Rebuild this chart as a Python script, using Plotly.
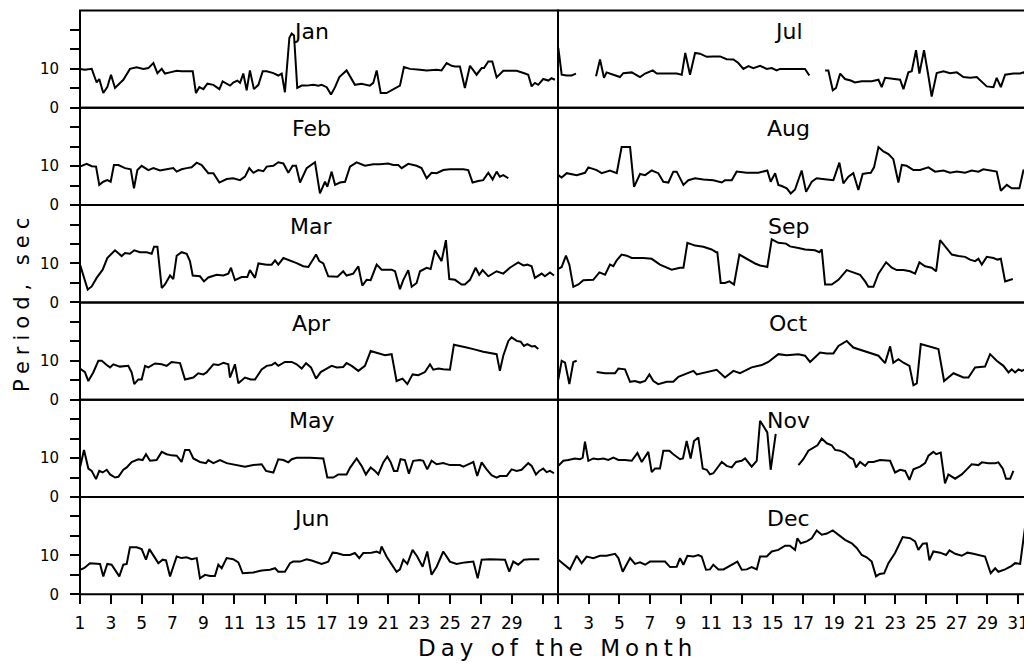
import plotly.graph_objects as go

# ---------------- data (day of month, period in seconds) ----------------
months = ["Jan", "Feb", "Mar", "Apr", "May", "Jun",
          "Jul", "Aug", "Sep", "Oct", "Nov", "Dec"]

jan_day = [1.00, 1.32, 1.76, 2.08, 2.25, 2.51, 2.77, 3.01, 3.27, 3.81, 4.24, 4.67, 5.11, 5.43, 5.76, 6.02, 6.30, 6.51, 6.84, 7.27, 7.59, 8.13, 8.31, 8.52, 8.74, 9.00, 9.26, 9.65, 10.04, 10.25, 10.73, 10.94, 11.20, 11.38, 11.59, 11.81, 12.02, 12.28, 12.57, 12.85, 13.11, 13.54, 13.86, 14.08, 14.29, 14.58, 14.73, 14.88, 15.09, 15.38, 15.70, 16.13, 16.46, 16.67, 17.00, 17.28, 17.54, 17.82, 18.29, 18.83, 19.26, 19.80, 20.02, 20.24, 20.50, 20.88, 21.32, 21.75, 22.01, 22.40, 23.05, 23.48, 24.13, 24.45, 24.78, 25.10, 25.32, 25.64, 25.96, 26.29, 26.72, 27.05, 27.20, 27.48, 27.74, 28.02, 28.45, 28.99, 29.32, 29.86, 30.07, 30.29, 30.50, 30.72, 31.04, 31.37, 31.58, 31.80]
jan_period = [10.0, 9.8, 10.0, 6.5, 7.4, 3.8, 5.3, 8.5, 5.1, 7.2, 10.0, 10.4, 10.0, 10.2, 11.5, 8.9, 10.0, 8.8, 9.1, 9.5, 9.4, 9.4, 9.4, 3.8, 5.3, 4.8, 6.2, 5.9, 4.8, 6.8, 5.7, 6.5, 7.0, 6.4, 8.8, 4.5, 9.6, 4.8, 5.9, 9.4, 9.4, 8.9, 8.3, 8.8, 4.0, 18.0, 19.1, 18.6, 5.1, 5.7, 5.7, 5.9, 5.7, 5.9, 5.3, 3.4, 5.3, 7.9, 9.6, 5.9, 6.2, 5.7, 6.4, 9.6, 3.8, 3.8, 4.8, 5.7, 10.5, 10.0, 9.8, 9.6, 9.8, 9.6, 11.5, 10.8, 10.6, 10.6, 5.1, 10.8, 8.5, 10.2, 10.2, 11.9, 11.9, 7.8, 9.5, 9.4, 9.5, 8.8, 8.5, 5.5, 6.4, 5.9, 7.4, 7.0, 7.6, 7.2]

feb_day = [1.00, 1.43, 1.76, 2.04, 2.25, 2.51, 2.77, 2.99, 3.20, 3.49, 3.92, 4.29, 4.50, 4.72, 5.00, 5.43, 5.76, 6.19, 6.62, 7.05, 7.27, 7.59, 7.92, 8.24, 8.57, 8.89, 9.32, 9.65, 10.04, 10.51, 10.94, 11.38, 11.70, 11.98, 12.24, 12.57, 12.89, 13.11, 13.54, 13.86, 14.19, 14.51, 14.79, 15.01, 15.27, 15.70, 16.24, 16.56, 16.89, 17.04, 17.32, 17.54, 17.86, 18.19, 18.51, 18.94, 19.48, 20.02, 20.45, 20.99, 21.32, 21.64, 21.86, 22.29, 22.83, 23.15, 23.48, 23.80, 24.13, 24.56, 24.99, 25.42, 25.86, 26.18, 26.46, 26.83, 27.15, 27.48, 27.76, 28.02, 28.23, 28.45, 28.78]
feb_period = [9.9, 10.6, 10.0, 9.9, 5.2, 6.0, 6.4, 6.0, 10.3, 10.3, 9.5, 9.2, 4.3, 9.0, 10.1, 9.0, 9.5, 8.9, 9.2, 9.5, 8.6, 9.2, 9.5, 9.7, 10.9, 10.3, 8.2, 8.2, 5.8, 6.7, 6.9, 6.4, 7.3, 9.5, 8.3, 9.0, 8.7, 9.9, 10.1, 11.0, 10.7, 8.3, 10.1, 10.1, 5.8, 9.5, 11.0, 3.0, 6.0, 4.7, 8.6, 5.2, 5.8, 6.0, 9.9, 11.0, 10.1, 10.5, 10.5, 10.7, 10.3, 10.3, 9.5, 10.6, 10.1, 9.5, 6.9, 8.3, 8.2, 9.0, 9.2, 9.2, 9.2, 9.0, 5.8, 6.2, 6.4, 8.3, 6.6, 8.6, 7.3, 7.7, 6.9]

mar_day = [1.00, 1.22, 1.50, 1.76, 2.08, 2.47, 2.77, 3.27, 3.70, 3.92, 4.24, 4.52, 4.89, 5.32, 5.65, 5.80, 6.02, 6.30, 6.51, 6.84, 7.05, 7.27, 7.59, 7.92, 8.13, 8.31, 8.78, 9.04, 9.32, 9.86, 10.30, 10.62, 10.79, 11.05, 11.48, 11.85, 12.02, 12.35, 12.57, 13.11, 13.43, 13.65, 13.86, 14.19, 14.62, 15.05, 15.48, 15.81, 16.31, 16.52, 16.78, 17.10, 17.70, 18.07, 18.29, 18.72, 19.05, 19.31, 19.59, 19.85, 20.24, 20.56, 21.21, 21.43, 21.75, 21.97, 22.29, 22.51, 22.83, 23.05, 23.48, 23.74, 24.02, 24.45, 24.73, 24.95, 25.32, 25.75, 25.96, 26.29, 26.66, 26.89, 27.11, 27.48, 28.02, 28.45, 28.88, 29.42, 29.75, 30.01, 30.29, 30.50, 30.94, 31.15, 31.48, 31.74]
mar_period = [9.7, 6.7, 3.3, 4.1, 6.3, 8.4, 11.4, 13.4, 11.9, 12.7, 12.5, 13.4, 12.9, 12.9, 12.5, 14.3, 14.3, 3.7, 4.6, 6.9, 6.0, 12.0, 12.9, 12.5, 10.6, 6.9, 6.7, 5.4, 6.4, 7.1, 6.9, 7.4, 8.9, 5.7, 6.5, 6.5, 8.3, 6.3, 10.0, 9.7, 9.7, 10.8, 9.7, 11.4, 10.8, 10.1, 9.3, 9.1, 12.3, 10.6, 10.0, 6.7, 6.6, 8.0, 6.9, 7.4, 9.3, 4.3, 5.8, 5.7, 9.7, 8.4, 8.4, 8.0, 3.4, 5.8, 8.3, 4.0, 5.0, 8.0, 8.9, 8.6, 13.4, 10.6, 16.0, 6.0, 5.8, 4.6, 4.6, 5.8, 8.9, 7.1, 8.3, 6.7, 8.0, 7.4, 8.9, 10.3, 9.5, 9.7, 9.3, 6.3, 7.4, 6.7, 7.7, 6.9]

apr_day = [1.00, 1.32, 1.54, 1.86, 2.19, 2.41, 2.73, 2.95, 3.16, 3.59, 4.13, 4.35, 4.52, 4.78, 5.00, 5.22, 5.43, 5.86, 6.30, 6.62, 6.94, 7.49, 7.81, 8.35, 8.67, 9.00, 9.21, 9.65, 9.97, 10.30, 10.62, 10.73, 11.05, 11.27, 11.70, 12.07, 12.35, 12.78, 13.11, 13.43, 13.65, 13.86, 14.29, 14.73, 15.05, 15.38, 15.66, 15.98, 16.31, 16.61, 17.00, 17.32, 17.65, 18.07, 18.29, 18.62, 19.05, 19.48, 19.85, 20.34, 20.78, 21.21, 21.53, 21.92, 22.23, 22.57, 22.94, 23.37, 23.70, 23.91, 24.24, 24.56, 24.99, 25.25, 25.53, 26.07, 26.51, 27.15, 28.02, 28.23, 28.45, 28.78, 28.99, 29.32, 29.58, 29.79, 30.01, 30.29, 30.50, 30.72]
apr_period = [8.0, 7.1, 4.8, 7.0, 10.0, 10.0, 8.9, 8.3, 9.1, 8.5, 8.7, 7.0, 4.0, 5.2, 5.2, 8.7, 8.3, 9.3, 9.1, 8.7, 9.7, 9.4, 5.2, 5.7, 6.8, 6.5, 7.0, 9.1, 8.9, 9.5, 9.1, 5.7, 9.1, 4.2, 5.7, 5.2, 5.2, 7.8, 8.7, 8.9, 9.5, 8.7, 9.7, 9.7, 9.1, 8.0, 9.4, 8.3, 5.4, 7.1, 8.0, 8.7, 8.3, 8.4, 9.4, 8.7, 7.4, 8.7, 12.5, 11.9, 11.4, 11.7, 4.8, 5.4, 4.0, 6.5, 6.3, 7.1, 9.1, 7.7, 8.0, 7.8, 7.7, 14.1, 13.8, 13.4, 13.0, 12.3, 11.7, 7.4, 11.3, 15.1, 16.0, 15.1, 14.9, 13.8, 14.3, 13.7, 13.8, 13.0]

may_day = [1.00, 1.26, 1.54, 1.76, 2.04, 2.25, 2.47, 2.73, 2.95, 3.27, 3.49, 3.81, 4.03, 4.35, 4.78, 5.06, 5.28, 5.54, 5.97, 6.30, 6.62, 6.94, 7.27, 7.59, 7.81, 8.09, 8.35, 8.78, 9.17, 9.32, 9.65, 10.08, 10.51, 10.94, 11.27, 11.70, 12.24, 12.78, 13.06, 13.54, 13.86, 14.19, 14.51, 14.73, 15.05, 15.92, 16.78, 17.04, 17.43, 17.75, 18.29, 18.51, 18.94, 19.26, 19.54, 19.85, 20.13, 20.34, 20.67, 20.93, 21.14, 21.36, 21.58, 21.79, 22.07, 22.33, 22.61, 23.05, 23.26, 23.52, 23.80, 24.13, 24.56, 24.99, 25.64, 25.86, 26.18, 26.51, 26.76, 27.05, 27.37, 27.69, 28.02, 28.23, 28.67, 28.99, 29.32, 29.64, 30.07, 30.29, 30.57, 30.79, 31.04, 31.26, 31.48, 31.74]
may_period = [7.6, 12.1, 7.3, 6.7, 4.6, 6.7, 6.3, 7.0, 5.8, 5.0, 5.2, 7.0, 7.6, 9.0, 9.7, 9.5, 11.0, 9.3, 9.5, 11.6, 11.0, 10.7, 10.6, 9.0, 12.1, 12.1, 9.9, 9.0, 8.7, 9.5, 8.7, 9.5, 8.7, 8.4, 8.2, 7.8, 8.2, 8.4, 6.7, 6.3, 9.7, 9.5, 8.9, 9.7, 10.1, 10.1, 9.9, 5.0, 5.0, 5.8, 5.8, 7.5, 9.9, 8.0, 5.8, 7.6, 6.7, 5.8, 8.9, 10.4, 9.0, 6.7, 6.7, 9.7, 9.5, 6.0, 9.3, 9.5, 9.3, 7.1, 9.3, 8.4, 8.7, 8.2, 8.2, 7.8, 8.4, 9.0, 5.4, 8.9, 7.1, 5.6, 5.0, 5.4, 5.4, 7.1, 6.7, 7.0, 8.7, 8.0, 5.8, 6.7, 7.3, 6.4, 6.7, 6.1]

jun_day = [1.00, 1.26, 1.65, 2.08, 2.30, 2.51, 2.77, 3.05, 3.38, 3.55, 3.81, 4.03, 4.24, 4.67, 5.00, 5.28, 5.50, 5.76, 6.08, 6.36, 6.58, 6.84, 7.27, 7.59, 7.92, 8.24, 8.57, 8.78, 9.11, 9.43, 9.75, 9.97, 10.19, 10.51, 10.94, 11.27, 11.55, 12.24, 12.78, 13.32, 13.65, 13.86, 14.29, 14.62, 14.83, 15.27, 15.70, 16.02, 16.35, 16.67, 17.10, 17.38, 17.64, 18.08, 18.51, 18.83, 19.11, 19.37, 19.91, 20.24, 20.45, 20.56, 20.88, 21.21, 21.53, 21.75, 21.97, 22.23, 22.57, 22.87, 23.22, 23.52, 23.80, 24.13, 24.56, 24.99, 25.42, 25.96, 26.51, 26.79, 27.05, 27.59, 28.23, 28.56, 28.84, 29.10, 29.42, 29.79, 30.18, 30.79]
jun_period = [6.3, 6.7, 8.0, 7.8, 7.8, 4.6, 7.8, 7.6, 5.8, 4.6, 7.6, 7.8, 12.1, 12.1, 11.6, 8.9, 11.6, 10.1, 8.0, 8.9, 8.7, 4.6, 9.7, 9.3, 9.5, 9.0, 9.3, 4.1, 5.0, 4.7, 4.7, 7.6, 6.7, 9.3, 9.0, 8.2, 5.4, 5.6, 6.1, 6.3, 6.7, 5.8, 5.8, 8.0, 8.4, 8.4, 9.0, 8.7, 8.2, 7.8, 8.4, 10.7, 10.6, 10.1, 10.1, 10.6, 9.3, 10.6, 10.7, 11.0, 10.6, 12.3, 9.7, 7.6, 5.8, 6.4, 8.9, 7.8, 11.4, 9.7, 7.1, 11.0, 5.0, 7.1, 11.0, 8.4, 7.8, 8.2, 8.4, 4.1, 8.9, 9.0, 9.0, 8.9, 5.8, 8.4, 7.6, 8.9, 9.0, 9.0]

jul_day = [1.02, 1.24, 1.57, 1.89, 2.17, None, 3.48, 3.74, 4.00, 4.17, 4.61, 5.04, 5.26, 5.81, 6.35, 6.68, 7.18, 7.44, 7.87, 8.74, 9.07, 9.30, 9.61, 9.94, 10.26, 10.70, 11.13, 11.57, 12.00, 12.44, 12.76, 13.09, 13.42, 13.74, 14.18, 14.61, 14.94, 15.26, 15.48, 16.13, 17.11, 17.39, None, 18.42, 18.63, 18.92, 19.13, 19.40, 19.72, 20.09, 20.37, 20.81, 21.46, 21.90, 22.11, 22.33, 22.87, 23.31, 23.53, 23.85, 24.07, 24.35, 24.57, 24.87, 25.16, 25.37, 25.70, 26.14, 26.57, 27.01, 27.44, 27.88, 28.31, 28.64, 28.96, 29.40, 29.61, 29.88, 30.16, 30.70, 31.14, 31.35, 31.68]
jul_period = [15.4, 8.5, 8.3, 8.3, 8.8, None, 8.1, 12.4, 7.7, 9.1, 8.5, 7.9, 8.9, 9.1, 7.9, 8.8, 9.6, 8.8, 8.8, 8.8, 8.5, 14.1, 8.5, 14.1, 13.9, 13.1, 13.2, 13.2, 12.5, 12.4, 11.5, 10.0, 10.7, 10.2, 10.8, 10.0, 10.2, 9.6, 10.0, 10.0, 10.0, 8.3, None, 9.6, 9.6, 4.5, 5.1, 8.8, 7.4, 7.0, 6.5, 6.8, 6.8, 7.2, 5.3, 7.7, 7.4, 7.2, 4.8, 9.1, 9.4, 14.8, 8.8, 14.8, 8.1, 2.9, 8.9, 9.4, 8.9, 9.1, 7.9, 7.7, 7.9, 6.8, 5.5, 5.3, 7.7, 5.3, 8.5, 8.8, 8.8, 9.1, 8.1]

aug_day = [1.02, 1.24, 1.57, 2.22, 2.76, 2.98, 3.52, 3.85, 4.39, 4.83, 5.15, 5.70, 5.96, 6.35, 6.68, 7.11, 7.54, 7.87, 8.20, 8.52, 8.74, 9.18, 9.50, 9.94, 10.48, 11.13, 11.68, 11.89, 12.33, 12.65, 13.31, 14.07, 14.65, 14.87, 15.16, 15.37, 15.59, 15.92, 16.18, 16.46, 16.89, 17.18, 17.55, 17.87, 18.53, 18.96, 19.35, 19.61, 19.94, 20.26, 20.59, 20.87, 21.13, 21.40, 21.61, 21.90, 22.22, 22.55, 22.87, 23.20, 23.42, 23.74, 24.18, 24.61, 25.16, 25.59, 26.14, 26.57, 27.01, 27.55, 27.98, 28.42, 28.74, 29.29, 29.61, 29.88, 30.27, 30.59, 31.09, 31.35, 31.68]
aug_period = [7.7, 7.1, 8.2, 7.7, 8.3, 9.7, 9.0, 8.2, 8.9, 8.2, 14.9, 14.9, 4.7, 8.0, 7.7, 8.9, 8.2, 6.0, 5.8, 8.6, 8.6, 5.2, 6.4, 6.9, 6.6, 6.4, 5.8, 6.4, 6.4, 8.6, 8.3, 8.3, 8.9, 6.0, 8.2, 5.2, 4.9, 4.3, 3.0, 4.0, 8.9, 3.4, 6.0, 6.9, 6.6, 6.4, 10.9, 5.6, 7.3, 8.2, 3.9, 8.0, 8.2, 8.3, 9.7, 14.9, 13.8, 13.1, 11.8, 5.8, 10.3, 10.1, 9.0, 9.0, 9.7, 8.6, 8.9, 8.3, 8.6, 8.3, 8.9, 8.6, 9.2, 8.9, 8.6, 3.7, 5.2, 4.3, 4.3, 8.9, 9.2]

sep_day = [1.02, 1.24, 1.52, 1.74, 2.00, 2.33, 2.65, 3.30, 3.70, 4.07, 4.39, 4.61, 4.83, 5.15, 5.48, 5.81, 6.57, 7.11, 7.65, 8.41, 8.96, 9.18, 9.44, 9.94, 10.48, 11.02, 11.31, 11.39, 11.61, 11.89, 12.18, 12.48, 12.83, 13.31, 13.85, 14.18, 14.65, 14.94, 15.37, 15.87, 16.13, 16.68, 17.11, 17.76, 18.05, 18.20, 18.42, 18.85, 19.29, 19.83, 20.26, 20.70, 21.03, 21.24, 21.57, 21.90, 22.40, 22.77, 23.09, 23.53, 23.96, 24.29, 24.57, 24.94, 25.37, 25.66, 25.92, 26.35, 26.68, 27.11, 27.55, 27.87, 28.20, 28.42, 28.64, 28.96, 29.40, 29.66, 29.88, 30.16, 30.49, 30.66]
sep_period = [8.6, 9.1, 12.0, 9.7, 4.0, 4.6, 5.7, 5.8, 7.7, 7.1, 9.7, 9.3, 10.8, 12.3, 12.0, 11.4, 11.4, 11.2, 9.7, 8.4, 8.9, 8.9, 15.3, 14.6, 14.3, 13.6, 12.9, 12.9, 5.0, 5.0, 5.4, 4.6, 12.3, 11.2, 10.0, 9.5, 9.1, 16.2, 15.3, 15.1, 14.4, 14.0, 13.6, 13.4, 12.9, 13.6, 4.6, 4.6, 5.8, 8.3, 7.7, 7.1, 5.4, 4.0, 4.0, 7.4, 10.3, 8.9, 8.3, 8.3, 8.0, 7.4, 10.3, 9.3, 8.9, 8.0, 16.0, 14.0, 12.3, 11.9, 11.7, 11.0, 10.6, 11.2, 9.7, 11.7, 11.4, 11.0, 11.2, 5.4, 5.7, 6.0]

oct_day = [1.02, 1.24, 1.46, 1.74, 2.00, 2.22, None, 3.52, 4.07, 4.72, 4.94, 5.37, 5.70, 6.02, 6.35, 6.68, 6.96, 7.22, 7.54, 8.09, 8.52, 8.85, 9.28, 9.83, 10.05, 10.59, 10.91, 11.35, 11.89, 12.44, 12.87, 13.63, 14.29, 14.72, 15.37, 15.92, 16.68, 17.11, 17.44, 17.76, 18.09, 18.53, 18.96, 19.29, 19.83, 20.26, 20.70, 21.35, 21.90, 22.33, 22.66, 22.87, 23.20, 23.53, 23.92, 24.18, 24.40, 24.66, 25.16, 25.81, 26.18, 26.79, 27.44, 27.77, 28.20, 28.85, 29.18, 29.61, 30.05, 30.38, 30.59, 30.81, 31.03, 31.25, 31.46, 31.68]
oct_period = [5.2, 10.0, 9.5, 4.0, 9.7, 10.0, None, 7.1, 6.8, 6.8, 8.0, 7.8, 4.6, 4.8, 4.4, 4.8, 6.5, 4.8, 4.0, 4.6, 4.6, 5.9, 6.5, 7.4, 6.5, 7.0, 7.4, 7.7, 5.7, 7.4, 6.8, 8.3, 8.9, 9.7, 11.7, 11.4, 11.7, 11.3, 9.7, 10.8, 12.1, 11.9, 11.9, 13.8, 15.1, 13.4, 12.8, 11.9, 11.3, 9.4, 13.7, 9.5, 10.4, 9.5, 8.7, 3.7, 4.2, 14.3, 13.8, 13.0, 4.8, 6.8, 5.7, 5.7, 8.3, 8.5, 11.7, 10.0, 8.7, 7.0, 7.8, 7.0, 7.8, 7.4, 7.8, 8.5]

nov_day = [1.02, 1.35, 1.67, 2.11, 2.44, 2.61, 2.76, 2.98, 3.30, 3.63, 3.96, 4.28, 4.61, 4.94, 5.37, 5.81, 6.18, 6.46, 6.89, 7.11, 7.33, 7.65, 7.87, 8.26, 8.52, 8.96, 9.15, 9.39, 9.65, 9.87, 10.15, 10.44, 10.70, 10.91, 11.13, 11.39, 11.68, 12.00, 12.33, 12.61, 12.98, 13.20, 13.63, 13.96, 14.18, 14.35, 14.65, 14.87, 15.20, None, 16.68, 17.00, 17.33, 17.66, 17.92, 18.20, 18.53, 18.85, 19.07, 19.40, 19.72, 20.05, 20.26, 20.44, 20.70, 21.03, 21.24, 21.57, 22.00, 22.66, 22.98, 23.31, 23.64, 23.92, 24.18, 24.61, 24.94, 25.16, 25.48, 25.66, 25.96, 26.24, 26.46, 26.90, 27.33, 27.66, 27.98, 28.42, 28.64, 29.07, 29.51, 29.72, 30.01, 30.22, 30.49, 30.70]
nov_period = [8.0, 9.3, 9.5, 9.9, 9.7, 10.1, 14.2, 9.3, 9.9, 9.7, 9.9, 9.5, 10.1, 9.5, 9.5, 9.3, 11.3, 9.0, 11.6, 6.4, 7.3, 7.3, 11.9, 11.9, 11.0, 9.7, 9.9, 14.4, 9.9, 14.4, 15.3, 7.3, 7.0, 5.8, 6.1, 7.6, 9.0, 8.0, 7.6, 9.0, 9.3, 9.9, 7.8, 9.3, 19.6, 18.5, 16.6, 7.0, 16.2, None, 8.2, 9.7, 11.9, 12.7, 13.3, 15.0, 13.8, 13.3, 12.1, 11.9, 11.3, 10.1, 9.7, 7.6, 9.0, 8.0, 9.0, 9.0, 9.5, 9.3, 6.3, 7.0, 6.7, 4.4, 7.1, 7.8, 8.7, 10.6, 11.6, 11.0, 11.4, 3.5, 5.8, 4.7, 5.8, 7.1, 8.4, 8.2, 8.9, 8.7, 8.7, 8.9, 7.3, 4.7, 4.7, 6.7]

dec_day = [1.02, 1.35, 1.78, 2.22, 2.54, 2.87, 3.30, 3.74, 4.17, 4.72, 4.94, 5.22, 5.70, 6.02, 6.35, 6.68, 7.00, 7.54, 7.98, 8.31, 8.74, 8.96, 9.18, 9.44, 9.83, 10.15, 10.37, 10.65, 10.91, 11.13, 11.46, 11.79, 12.11, 12.44, 12.70, 12.98, 13.31, 13.63, 13.96, 14.18, 14.61, 14.94, 15.37, 15.81, 16.13, 16.46, 16.61, 16.83, 17.22, 17.55, 17.87, 18.20, 18.53, 18.92, 19.29, 19.72, 20.16, 20.48, 20.81, 21.13, 21.46, 21.74, 21.96, 22.27, 22.55, 22.98, 23.48, 23.96, 24.29, 24.50, 24.79, 25.05, 25.22, 25.48, 25.92, 26.31, 26.53, 26.90, 27.33, 27.70, 28.09, 28.53, 28.85, 29.22, 29.51, 29.72, 30.16, 30.59, 30.81, 31.14, 31.46, 31.72]
dec_period = [8.9, 7.8, 6.4, 9.9, 8.0, 9.7, 9.3, 9.9, 9.9, 10.4, 9.3, 5.8, 9.3, 7.8, 8.2, 7.6, 8.4, 8.4, 8.4, 7.0, 7.1, 9.3, 7.6, 9.9, 9.7, 10.1, 9.7, 6.3, 6.4, 7.6, 6.4, 6.4, 7.1, 7.8, 8.4, 6.3, 6.4, 7.0, 6.4, 9.7, 9.7, 11.0, 11.4, 12.5, 12.5, 11.4, 14.4, 13.1, 13.6, 14.4, 16.4, 15.3, 15.6, 16.4, 15.3, 14.0, 13.1, 11.9, 10.1, 9.5, 8.4, 4.6, 5.2, 5.4, 8.0, 10.6, 14.7, 14.4, 13.6, 11.4, 13.0, 13.1, 8.7, 11.0, 10.7, 10.1, 11.3, 10.4, 9.9, 10.7, 10.4, 9.9, 9.7, 5.4, 6.7, 5.8, 6.4, 7.3, 8.0, 7.8, 17.3, 13.0]

y_tick_values = [0, 5, 10, 15, 20]
y_tick_labels = ["0", "", "10", "", ""]
x_tick_values = list(range(1, 32, 2))
x_tick_labels_left = [str(v) for v in range(1, 30, 2)] + [""]
x_tick_labels_right = [str(v) for v in range(1, 32, 2)]

series = [(jan_day, jan_period), (feb_day, feb_period), (mar_day, mar_period),
          (apr_day, apr_period), (may_day, may_period), (jun_day, jun_period),
          (jul_day, jul_period), (aug_day, aug_period), (sep_day, sep_period),
          (oct_day, oct_period), (nov_day, nov_period), (dec_day, dec_period)]

# ---------------- layout geometry ----------------
# The page shows the figure 8px in from the window's top-left corner, so the
# figure is sized to fit the window and positions are shifted by that amount.
OFF = 8
W, H = 1032 - OFF, 666 - OFF
FONT = "DejaVu Sans"
col_px = [(80 - OFF, 558 - OFF), (558 - OFF, 1029.5 - OFF)]
row_top, row_h = 10.5 - OFF, 97.3
x_ranges = [[1, 32], [1, 31.75]]

fig = go.Figure()
layout = {}
annotations = []
shapes = []

for i, (d, p) in enumerate(series):
    n = i + 1
    col, row = i // 6, i % 6
    sx = "" if n == 1 else str(n)
    fig.add_trace(go.Scatter(
        x=d, y=p, mode="lines", connectgaps=False,
        line=dict(color="black", width=2),
        xaxis="x" + sx, yaxis="y" + sx, hoverinfo="skip", showlegend=False))

    x0, x1 = col_px[col]
    top = row_top + row * row_h
    bot = top + row_h
    bottom_row = row == 5

    layout["xaxis" + sx] = dict(
        domain=[x0 / W, x1 / W], anchor="y" + sx, range=x_ranges[col],
        automargin=False,
        showline=False, showgrid=False, zeroline=False,
        ticks="outside" if bottom_row else "", ticklen=9, tickwidth=1.8,
        tickcolor="black",
        tickmode="array", tickvals=x_tick_values,
        ticktext=x_tick_labels_left if col == 0 else x_tick_labels_right,
        showticklabels=bottom_row, ticklabelstandoff=4,
        tickfont=dict(family=FONT, size=17, color="black"),
        fixedrange=True)
    layout["yaxis" + sx] = dict(
        domain=[1 - bot / H, 1 - top / H], anchor="x" + sx, range=[0, 25],
        automargin=False,
        showline=False, showgrid=False, zeroline=False,
        ticks="outside" if col == 0 else "", ticklen=9, tickwidth=1.8,
        tickcolor="black",
        tickmode="array", tickvals=y_tick_values, ticktext=y_tick_labels,
        showticklabels=col == 0, ticklabelstandoff=8,
        tickfont=dict(family=FONT, size=15, color="black"),
        fixedrange=True)

    shapes.append(dict(
        type="rect", xref="x" + sx + " domain", yref="y" + sx + " domain",
        x0=0, x1=1, y0=0, y1=1, line=dict(color="black", width=2),
        fillcolor="rgba(0,0,0,0)", layer="above"))

    annotations.append(dict(
        text=months[i], x=16, y=19.6, xref="x" + sx, yref="y" + sx,
        showarrow=False, xanchor="center", yanchor="middle",
        font=dict(family=FONT, size=22, color="black")))

annotations.append(dict(
    text='<span style="letter-spacing:5px">Day of the Month</span>',
    x=(557 - OFF) / W, y=1 - (633 - OFF) / H, xref="paper", yref="paper",
    showarrow=False, xanchor="center", yanchor="top",
    font=dict(family=FONT, size=23, color="black")))
annotations.append(dict(
    text='<span style="letter-spacing:6px">Period, sec</span>',
    x=0, y=1 - (302 - OFF) / H, xref="paper", yref="paper",
    showarrow=False, xanchor="left", yanchor="middle", textangle=-90,
    font=dict(family=FONT, size=21, color="black")))

fig.update_layout(
    width=W, height=H, margin=dict(l=0, r=0, t=0, b=0, autoexpand=False),
    paper_bgcolor="white", plot_bgcolor="white",
    showlegend=False, annotations=annotations, shapes=shapes, **layout)

fig.write_html("out.html")
